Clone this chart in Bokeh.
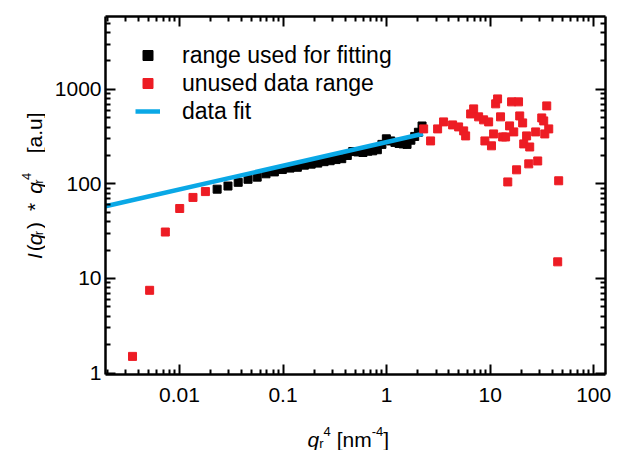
from bokeh.plotting import figure
from bokeh.models import (Range1d, LogAxis, FixedTicker, CustomJSTickFormatter,
                          Legend, LegendItem, Label)
from bokeh.layouts import column, row
from bokeh.embed import file_html
from bokeh.resources import INLINE
import math

# ---------------- data ----------------
fit_q4 = [0.0231, 0.0294, 0.0369, 0.0459, 0.0563, 0.0685, 0.0825, 0.0985, 0.1168,
          0.1375, 0.1609, 0.1871, 0.2164, 0.2490, 0.2851, 0.3251, 0.3691, 0.4174,
          0.4704, 0.5282, 0.5912, 0.6597, 0.7339, 0.8143, 0.9011, 0.9947, 1.0955,
          1.2037, 1.3197, 1.4434, 1.5757, 1.7169, 1.8687, 2.0290, 2.2000]
fit_I = [88, 95, 104, 112, 118, 128, 134, 142, 147,
         150, 158, 162, 166, 172, 176, 181, 185, 200,
         220, 218, 215, 222, 224, 230, 262, 300, 285,
         275, 268, 265, 262, 290, 318, 352, 410]

unused_q4 = [0.00352, 0.00515, 0.0073, 0.01005, 0.0135, 0.0178,
             2.28, 2.66, 3.11, 3.55, 4.34, 4.96, 5.55, 5.80, 6.48, 6.93,
             7.74, 8.65, 9.67, 8.9, 10.3, 10.8, 11.3, 11.8, 12.6, 13.2,
             14.1, 14.8, 15.4, 16.1, 16.9, 18.0, 18.8, 19.3, 20.6, 21.1,
             22.5, 24.1, 23.6, 27.5, 28.8, 31.5, 32.9, 33.7, 35.2, 36.8,
             45.9, 44.9]
unused_I = [1.5, 7.5, 31, 55, 72, 83,
            382, 285, 382, 453, 421, 401, 364, 322, 550, 622,
            512, 476, 453, 285, 253, 338, 703, 793, 512, 314,
            314, 105, 411, 738, 355, 141, 738, 524, 442, 265,
            322, 246, 163, 355, 175, 499, 464, 338, 669, 382,
            108, 15]

line_q4 = [0.00193, 2.25]
line_I = [58, 339]

x_ticks = [0.01, 0.1, 1, 10, 100]
x_tick_labels = ["0.01", "0.1", "1", "10", "100"]
y_ticks = [1, 10, 100, 1000]
y_tick_labels = ["1", "10", "100", "1000"]

legend_labels = ["range used for fitting", "unused data range", "data fit"]

# ---------------- styling ----------------
FONT = "Liberation Sans"
RED = "#ED1C24"
BLUE = "#0AA8E6"
TOTAL_W, TOTAL_H = 617, 450
YL_W = 45                      # strip for the y title
FL, FR, FT, FB = 60, 12, 16, 44
FW, FH = 500, 358
MAIN_H = FT + FH + FB          # 418
XL_H = TOTAL_H - MAIN_H        # 32

p = figure(x_axis_type="log", y_axis_type="log",
           x_range=Range1d(0.00193, 130), y_range=Range1d(0.965, 5900),
           frame_width=FW, frame_height=FH,
           min_border_left=FL, min_border_right=FR,
           min_border_top=FT, min_border_bottom=FB,
           output_backend="svg", toolbar_location=None)
p.xgrid.visible = False
p.ygrid.visible = False
p.outline_line_color = None
p.background_fill_color = "white"
p.border_fill_color = "white"

x_minor = [m * 10.0 ** k for k in range(-3, 3) for m in range(2, 10)]
y_minor = [m * 10.0 ** k for k in range(-1, 4) for m in range(2, 10)]

def style_axis(ax, ticks, minor, labels, show, standoff=5):
    ax.ticker = FixedTicker(ticks=ticks, minor_ticks=minor)
    ax.axis_line_width = 2.5
    ax.axis_line_color = "black"
    ax.major_tick_line_width = 2
    ax.minor_tick_line_width = 2
    ax.major_tick_in = 10
    ax.major_tick_out = 0
    ax.minor_tick_in = 5
    ax.minor_tick_out = 0
    ax.major_label_text_font = FONT
    ax.major_label_text_font_size = "21px"
    ax.major_label_text_color = "black"
    ax.axis_label = None
    if show:
        ax.formatter = CustomJSTickFormatter(code="return tick.toString()")
        ax.major_label_overrides = dict(zip(ticks, labels))
        ax.major_label_standoff = standoff
    else:
        ax.formatter = CustomJSTickFormatter(code="return ''")
        ax.major_label_standoff = 0

style_axis(p.xaxis[0], x_ticks, x_minor, x_tick_labels, True, standoff=13)
style_axis(p.yaxis[0], y_ticks, y_minor, y_tick_labels, True, standoff=4)
top_ax = LogAxis()
right_ax = LogAxis()
style_axis(top_ax, x_ticks, x_minor, x_tick_labels, False)
style_axis(right_ax, y_ticks, y_minor, y_tick_labels, False)
p.add_layout(top_ax, "above")
p.add_layout(right_ax, "right")

# ---------------- glyphs ----------------
r_black = p.scatter(fit_q4, fit_I, marker="square", size=8, color="black")
r_line = p.line(line_q4, line_I, line_width=4.5, color=BLUE)
r_red = p.scatter(unused_q4, unused_I, marker="square", size=8, color=RED)

legend = Legend(items=[LegendItem(label=legend_labels[0], renderers=[r_black]),
                       LegendItem(label=legend_labels[1], renderers=[r_red]),
                       LegendItem(label=legend_labels[2], renderers=[r_line])],
                location=(30, 249), border_line_color=None,
                background_fill_alpha=0, padding=0, margin=0, spacing=0,
                glyph_width=25, glyph_height=28, label_height=28,
                label_standoff=22, label_text_font=FONT,
                label_text_font_size="23px", label_text_color="black")
p.add_layout(legend)

# ---------------- axis titles (rich text pieces in their own strips) ----------------
def strip(w, h):
    f = figure(width=w, height=h, x_range=Range1d(0, w), y_range=Range1d(0, h),
               min_border=0, x_axis_location=None, y_axis_location=None,
               output_backend="svg", toolbar_location=None)
    f.grid.visible = False
    f.outline_line_color = None
    f.background_fill_color = "white"
    f.border_fill_color = "white"
    return f

W = {' ': 278, '(': 333, ')': 333, '*': 389, '[': 278, ']': 278, '.': 278,
     'a': 556, 'u': 556, 'n': 556, 'm': 833, 'q': 556, 'r': 333, '4': 556,
     '-': 333, 'I': 278}

def tw(s, size):
    return sum(W[c] for c in s) * size / 1000.0

F, S = 21, 13

# x title strip (spans the whole width, sits under the main figure)
xl = strip(TOTAL_W, XL_H)
x_pieces = [("q", F, "italic", 0, 0), ("r", S, "normal", -4, 0),
            ("4", S, "normal", 8, 0), ("[nm", F, "normal", 0, 6),
            ("-4", S, "normal", 8, 0), ("]", F, "normal", 0, 0)]
cx, base_y = 307, 439
for txt, sz, st, shift, gap in x_pieces:
    cx += gap
    xl.add_layout(Label(x=cx, y=TOTAL_H - base_y + shift,
                        x_units="data", y_units="data", text=txt,
                        text_font=FONT, text_font_size=f"{sz}px",
                        text_font_style=st, text_color="black",
                        text_align="left", text_baseline="alphabetic"))
    cx += tw(txt, sz)

# y title strip, rotated, reading bottom-to-top
yl = strip(YL_W, MAIN_H)
y_pieces = [("I", F, "italic", 0, 0), ("(", F, "normal", 0, 3),
            ("q", F, "italic", 0, 0), ("r", S, "normal", -4, 0),
            (")", F, "normal", 0, 3), ("*", F, "normal", 0, 14),
            ("q", F, "italic", 0, 12), ("r", S, "normal", -4, 0),
            ("4", S, "normal", 8, 0), ("[a.u]", F, "normal", 0, 24)]
cy, base_x = 283, 34
for txt, sz, st, shift, gap in y_pieces:
    cy -= gap
    yl.add_layout(Label(x=base_x - shift, y=MAIN_H - cy,
                        x_units="data", y_units="data", text=txt,
                        angle=math.pi / 2,
                        text_font=FONT, text_font_size=f"{sz}px",
                        text_font_style=st, text_color="black",
                        text_align="left", text_baseline="alphabetic"))
    cy -= tw(txt, sz)

layout = column(row(yl, p, spacing=0), xl, spacing=0)
open("out.html", "w").write(file_html(layout, INLINE))
